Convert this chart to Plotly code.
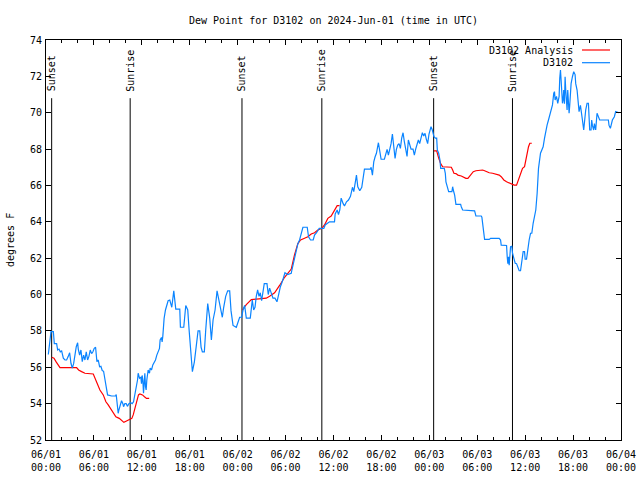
import pandas as pd
import plotly.graph_objects as go

# ---------------- data ----------------
base_time = "2024-06-01 00:00"

obs_hours = [0.29, 0.5, 0.625, 0.92, 1.04, 1.33, 1.46, 1.625, 1.79, 1.96, 2.17, 2.375, 2.58, 2.79, 2.96,
             3.125, 3.29, 3.46, 3.625, 3.79, 3.96, 4.04, 4.21, 4.375, 4.54, 4.71, 4.875, 5.04, 5.21, 5.375,
             5.54, 5.71, 5.875, 6.04, 6.21, 6.375, 6.54, 6.71, 6.875, 7.04, 7.21, 7.375, 7.54, 7.71, 8.21,
             8.71, 8.79, 8.875, 9.04, 9.125, 9.29, 9.46, 9.625, 9.71, 9.875, 10.04, 10.21, 10.375, 10.625,
             10.79, 10.96, 11.125, 11.29, 11.46, 11.54, 11.71, 11.875, 11.96, 12.04, 12.125, 12.21, 12.29,
             12.375, 12.46, 12.54, 12.625, 12.71, 12.79, 12.96, 13.04, 13.21, 13.375, 13.71, 13.875, 14.21,
             14.29, 14.46, 14.54, 14.625, 14.71, 14.79, 14.96, 15.125, 15.29, 15.5,
             15.75, 16.0, 16.25, 16.75, 16.83, 17.0, 17.25, 17.5, 17.75, 17.92, 18.08, 18.25, 18.33, 18.58,
             18.83, 19.04, 19.25, 19.42, 19.58, 19.83, 20.0, 20.25, 20.5, 20.71, 20.92, 21.17, 21.42, 21.67,
             21.83, 22.08, 22.25, 22.5, 22.75, 23.0, 23.17, 23.42, 23.83, 24.04, 24.25, 24.5, 24.67, 24.875,
             25.08, 25.58, 25.67, 25.83, 26.0, 26.17, 26.33, 26.5, 26.67, 26.83, 27.0, 27.17, 27.33, 27.67,
             27.83, 28.0, 28.25, 28.42, 28.67, 28.92, 29.08, 29.33, 29.58, 29.75, 29.92, 30.25,
             30.71, 30.79, 31.04, 31.29, 31.54, 31.75, 31.96, 32.17, 32.71, 32.875, 33.125, 33.46, 33.625,
             33.875, 34.21, 34.79, 34.96, 35.21, 35.5, 36.125, 36.21, 36.46, 36.625, 36.79, 36.96, 37.21,
             37.375, 37.625, 37.875, 38.125, 38.375, 38.54, 38.71, 38.875, 39.04, 39.29, 39.54, 39.71, 39.875,
             40.625, 40.71, 40.875, 41.04, 41.21, 41.375, 41.625, 41.79, 41.96, 42.375, 42.54, 42.71, 42.875,
             43.04, 43.21, 43.375, 43.54, 43.71, 43.875, 44.04, 44.21, 44.375, 44.54, 44.71, 44.875, 45.04,
             45.21, 45.375, 45.54, 45.71, 45.96, 46.125, 46.29, 46.46, 46.625, 46.79, 46.96, 47.125, 47.29,
             47.46, 47.625, 47.79, 47.96, 48.21, 48.375, 48.54,
             48.58, 48.75, 48.92, 49.0, 49.17, 49.33, 49.42, 49.875, 50.0, 50.08, 50.25, 50.42, 50.83, 50.92,
             51.0, 51.17, 51.33, 51.92, 52.0, 52.17, 53.67, 53.83, 54.5, 54.58, 54.75, 54.92, 55.5, 55.67,
             56.75, 56.92, 57.0, 57.67, 57.75, 57.83, 57.92, 58.0, 58.08, 58.17, 58.33, 58.42, 58.58, 58.75,
             58.92, 59.08, 59.25, 59.42, 59.58, 59.75, 59.92, 60.0, 60.17, 60.25, 60.33, 60.5, 60.67, 60.83,
             61.0, 61.17, 61.33, 61.5, 61.67,
             61.92, 62.08, 62.25, 62.42, 62.58, 62.75, 62.92, 63.08, 63.25, 63.42, 63.58, 63.67, 63.75, 63.92,
             64.08, 64.25, 64.33, 64.42, 64.5, 64.58, 64.67, 64.75, 64.83, 64.92, 65.0, 65.08, 65.17, 65.25,
             65.33, 65.42, 65.5, 65.58, 65.67, 65.75, 65.92, 66.08, 66.25, 66.33, 66.5, 66.67, 66.75, 66.92,
             67.0, 67.08, 67.17, 67.33, 67.42, 67.58, 67.75, 67.92, 68.0, 68.08, 68.25, 68.33, 68.42, 68.58,
             68.67, 68.83, 69.0, 69.17, 69.33, 70.42, 70.5, 70.67, 70.75, 70.92, 71.17, 71.33, 71.75]

obs_values = [56.7, 57.4, 57.96, 57.96, 57.3, 57.3, 56.95, 57.0, 56.85, 56.9, 56.5, 56.4, 56.4, 56.6, 56.8,
              56.22, 55.95, 56.2, 56.77, 57.13, 57.35, 57.0, 56.67, 56.95, 56.31, 56.67, 56.4, 56.85, 56.4, 56.6,
              56.95, 56.75, 56.85, 57.04, 57.1, 56.31, 56.4, 56.03, 56.05, 55.82, 55.78, 55.3, 54.84, 54.48, 54.42,
              54.42, 54.5, 54.1, 53.47, 53.65, 53.93, 54.16, 54.0, 53.83, 54.0, 54.0, 53.85, 54.0, 54.05,
              54.0, 54.1, 54.48, 54.84, 55.3, 55.67, 55.4, 55.45, 55.1, 55.55, 55.3, 54.57, 55.3,
              55.67, 54.93, 54.75, 55.3, 55.48, 55.85, 55.67, 55.95, 55.85, 56.13, 56.4, 56.67, 57.04,
              57.5, 57.64, 57.4, 57.7, 58.23, 58.69, 59.15, 59.5, 59.66, 59.7,
              59.3, 60.2, 59.2, 59.2, 58.2, 58.2, 58.2, 59.4, 59.15, 58.05, 57.3, 56.2, 55.76, 56.3,
              57.3, 58.0, 58.0, 57.1, 56.85, 56.85, 58.05, 59.5, 58.7, 57.5, 58.6, 59.15, 60.2, 59.7,
              59.25, 58.75, 59.3, 59.9, 60.2, 60.2, 59.1, 58.3, 58.2, 58.5, 58.75, 58.75, 59.15, 59.4,
              58.7, 58.7, 59.25, 59.7, 59.15, 59.3, 59.9, 60.25, 59.9, 60.1, 59.66, 60.2, 60.6, 60.6,
              60.0, 60.35, 60.0, 59.8, 59.8, 59.6, 59.9, 60.4, 60.7, 61.0, 61.2, 61.1,
              61.17, 61.35, 61.9, 62.45, 62.8, 63.0, 63.37, 63.7, 63.7, 63.18, 63.0, 63.0, 63.27,
              63.4, 63.64, 63.64, 63.83, 63.92, 64.0, 64.0, 64.43, 64.65, 64.4, 64.65, 65.3, 65.0,
              64.87, 65.1, 65.2, 65.4, 65.9, 65.66, 66.2, 66.57, 65.93, 65.71, 65.9, 66.3, 66.9,
              66.9, 67.0, 66.57, 67.3, 67.58, 67.77, 68.35, 67.77, 67.44, 67.44, 67.77, 67.98, 67.67,
              67.98, 68.3, 68.83, 68.13, 67.49, 67.98, 68.22, 68.3, 68.04, 68.6, 68.9, 68.4, 68.0,
              67.6, 68.5, 68.28, 68.0, 68.0, 67.67, 68.0, 68.3, 68.5, 68.3, 68.6, 68.9, 68.72,
              68.87, 68.54, 68.3, 68.83, 69.23, 69.05, 68.7,
              68.68, 68.6, 68.6, 67.95, 67.77, 67.4, 66.94, 66.94, 66.67, 66.2, 65.93, 65.66, 65.66, 65.93,
              65.75, 65.47, 64.96, 64.96, 64.83, 64.65, 64.6, 64.32, 64.32, 64.26, 63.64, 63.03, 63.03, 63.09,
              63.09, 63.0, 62.72, 62.7, 62.08, 61.7, 62.08, 61.62, 62.08, 62.63, 62.65, 62.27, 62.0, 61.72,
              61.7, 61.44, 61.31, 61.31, 61.9, 62.36, 62.36, 61.94, 61.94, 62.27, 62.67, 63.0, 63.37, 63.37,
              63.92, 64.28, 64.65, 65.57, 66.94,
              67.77, 67.95, 68.13, 68.59, 69.05, 69.33, 69.6, 69.88, 70.15, 70.43, 71.07, 71.16, 70.7, 70.9,
              70.52, 70.9, 71.9, 72.35, 71.8, 71.25, 70.52, 70.7, 71.25, 70.5, 71.98, 71.25, 70.7, 70.15,
              71.25, 70.52, 69.97, 70.4, 71.07, 71.6, 71.98, 72.26, 72.1, 71.6, 71.25, 70.5, 70.06, 70.4,
              70.2, 69.88, 69.6, 69.05, 69.6, 70.15, 70.52, 70.52, 69.78, 69.05, 69.05, 69.6, 69.3, 69.05,
              69.4, 69.05, 69.97, 69.78, 69.6, 69.6, 69.3, 69.14, 69.3, 69.6, 69.78, 70.06, 70.0]

# analysis: three runs, separated by None
ana_hours = [0.71, 1.0, 1.25, 1.54, 1.75, 3.83, 4.08, 4.46, 4.875, 5.92, 6.125, 6.42, 6.75, 7.17, 7.5,
             7.79, 8.08, 8.42, 8.75, 9.17, 9.46, 9.75, 10.08, 10.42, 10.75, 10.92, 11.08, 11.33, 11.58,
             11.75, 12.08, 12.33, 12.58, 12.92, None,
             24.58, 25.08, 25.71, 27.58, 28.0, 28.625, 29.25, 29.875, 30.71, 31.125, 31.54, 31.875, 32.375,
             32.79, 33.21, 33.625, 34.04, 34.54, 34.875, 35.29, 35.71, 36.125, 36.46, 36.75, None,
             48.58, 48.92, 49.17, 49.42, 49.67, 50.5, 50.75, 50.92, 51.08, 51.33, 51.58, 52.0, 52.33, 52.58,
             52.83, 53.0, 53.25, 53.5, 53.83, 54.25, 54.67, 54.92, 55.17, 55.5, 55.92, 56.33, 56.75, 57.0,
             57.33, 57.67, 58.0, 58.33, 58.625, 58.92, 59.08, 59.25, 59.5, 59.67, 59.92, 60.08, 60.25, 60.42,
             60.58, 60.83]
ana_values = [56.55, 56.5, 56.31, 56.13, 55.98, 55.98, 55.85, 55.76, 55.67, 55.63, 55.4, 55.03, 54.75, 54.48, 54.1,
              53.93, 53.74, 53.5, 53.28, 53.19, 53.06, 52.97, 53.05, 53.1, 53.19, 53.38, 53.65, 54.1, 54.48,
              54.53, 54.48, 54.38, 54.29, 54.29, None,
              59.15, 59.45, 59.72, 59.8, 59.9, 60.1, 60.5, 60.95, 61.4, 62.2, 62.8, 63.0, 63.1,
              63.18, 63.33, 63.4, 63.55, 63.64, 63.83, 64.19, 64.32, 64.65, 64.89, 64.89, None,
              67.9, 67.9, 67.5, 67.2, 67.03, 67.03, 67.0, 66.85, 66.67, 66.65, 66.57, 66.52, 66.43, 66.39,
              66.39, 66.48, 66.67, 66.76, 66.81, 66.85, 66.85, 66.81, 66.76, 66.7, 66.67, 66.63, 66.57, 66.48,
              66.3, 66.2, 66.15, 66.08, 66.02, 66.02, 66.2, 66.48, 66.76, 66.94, 67.03, 67.4, 67.77, 68.13,
              68.32, 68.32]

sun_event_hours = [0.71, 10.54, 24.54, 34.54, 48.54, 58.41]
sun_event_labels = ["Sunset", "Sunrise", "Sunset", "Sunrise", "Sunset", "Sunrise"]

y_ticks = [52, 54, 56, 58, 60, 62, 64, 66, 68, 70, 72, 74]
x_tick_hours = [0, 6, 12, 18, 24, 30, 36, 42, 48, 54, 60, 66, 72]

title_text = "Dew Point for D3102 on 2024-Jun-01 (time in UTC)"
y_label = "degrees F"
series_names = ["D3102 Analysis", "D3102"]

# ---------------- build ----------------
t0 = pd.Timestamp(base_time)
def to_time(hours):
    return [None if h is None else t0 + pd.Timedelta(hours=h) for h in hours]

RED = "#ff0000"
BLUE = "#0a84ff"
FONT = "DejaVu Sans Mono"

fig = go.Figure()

# sunrise/sunset lines
lx, ly = [], []
for h in sun_event_hours:
    lx += [t0 + pd.Timedelta(hours=h)] * 2 + [None]
    ly += [52, 70.8, None]
fig.add_trace(go.Scatter(x=lx, y=ly, mode="lines", line=dict(color="black", width=1),
                         hoverinfo="skip", showlegend=False))

fig.add_trace(go.Scatter(x=to_time(ana_hours), y=ana_values, mode="lines", name=series_names[0],
                         line=dict(color=RED, width=1.2), connectgaps=False, showlegend=False))
fig.add_trace(go.Scatter(x=to_time(obs_hours), y=obs_values, mode="lines", name=series_names[1],
                         line=dict(color=BLUE, width=1.2), showlegend=False))

annotations = []
for h, lab in zip(sun_event_hours, sun_event_labels):
    annotations.append(dict(x=t0 + pd.Timedelta(hours=h), y=71.05, xref="x", yref="y",
                            text=lab, textangle=-90, showarrow=False, xanchor="center",
                            yanchor="bottom", font=dict(family=FONT, size=10, color="black")))

# legend (gnuplot style: text then sample line)
L, R, T, B = 46, 19, 40, 40
PW, PH = 640 - L - R, 480 - T - B
def px(xp):
    return (xp - L) / PW
def py(yp):
    return 1 - (yp - T) / PH
shapes = []
for i, (name, col) in enumerate(zip(series_names, [RED, BLUE])):
    yy = 50 + i * 12.7
    annotations.append(dict(x=px(575), y=py(yy), xref="paper", yref="paper", text=name,
                            showarrow=False, xanchor="right", yanchor="middle",
                            font=dict(family=FONT, size=10, color="black")))
    shapes.append(dict(type="line", xref="paper", yref="paper", x0=px(582), x1=px(610),
                       y0=py(yy), y1=py(yy), line=dict(color=col, width=1.2)))

annotations.append(dict(x=px(10), y=0.5, xref="paper", yref="paper", text=y_label, textangle=-90,
                        showarrow=False, xanchor="center", yanchor="middle",
                        font=dict(family=FONT, size=10, color="black")))

tick_times = [t0 + pd.Timedelta(hours=h) for h in x_tick_hours]
tick_text = [t.strftime("%m/%d") + "<br>" + t.strftime("%H:%M") for t in tick_times]

fig.update_layout(
    width=640, height=480,
    margin=dict(l=L, r=R, t=T, b=B, autoexpand=False),
    paper_bgcolor="white", plot_bgcolor="white",
    font=dict(family=FONT, size=9, color="black"),
    title=dict(text=title_text, x=0.5, xref="paper", y=1 - 20 / 480, yanchor="middle",
               font=dict(family=FONT, size=10, color="black")),
    annotations=annotations, shapes=shapes, showlegend=False,
)
fig.update_xaxes(range=[tick_times[0], tick_times[-1]], tickvals=tick_times, ticktext=tick_text,
                 automargin=False, ticklabelstandoff=5,
                 showgrid=False, zeroline=False, showline=True, linecolor="black", linewidth=1,
                 mirror="allticks", ticks="inside", ticklen=5, tickcolor="black",
                 minor=dict(dtick=2 * 3600 * 1000, ticks="inside", ticklen=3, tickcolor="black", showgrid=False),
                 tickfont=dict(family=FONT, size=10))
fig.update_yaxes(range=[52, 74], tickvals=y_ticks, showgrid=False, zeroline=False, showline=True,
                 automargin=False, ticklabelstandoff=1,
                 linecolor="black", linewidth=1, mirror="allticks", ticks="inside", ticklen=5,
                 tickcolor="black", tickfont=dict(family=FONT, size=10))

fig.write_html("out.html", config={"displayModeBar": False},
               post_script="document.body.style.margin='0px';document.body.style.overflow='hidden';")
